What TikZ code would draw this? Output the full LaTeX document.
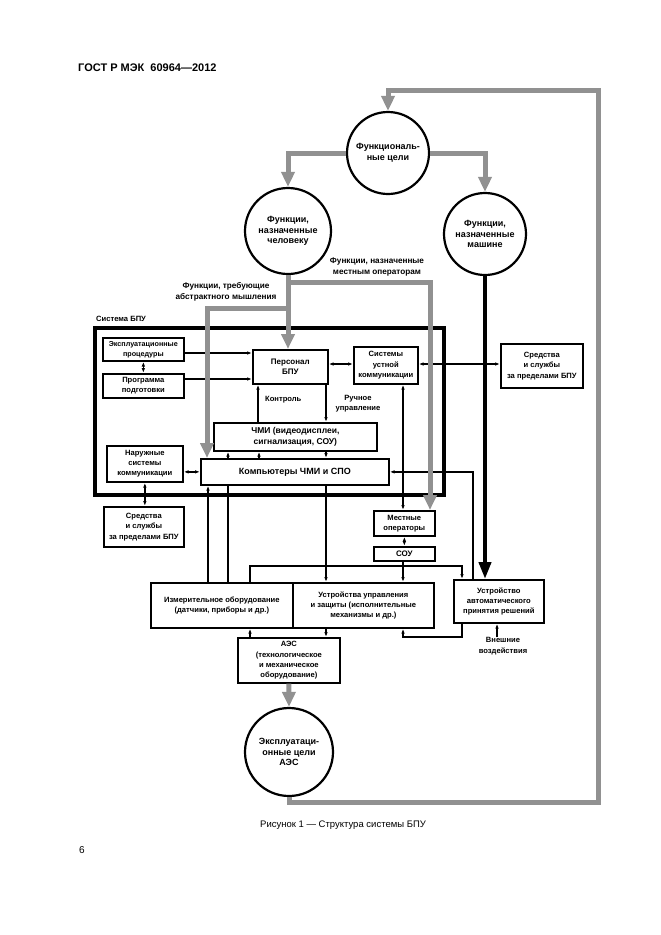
\documentclass[tikz,border=0pt]{standalone}
\usepackage{fontspec}
\setmainfont{Liberation Sans}
\usetikzlibrary{arrows.meta}
\definecolor{gline}{RGB}{145,145,145}
\begin{document}
\begin{tikzpicture}[x=1pt,y=-1pt,
  box/.style={draw,line width=1.7pt,fill=white,anchor=north west,inner sep=0pt,align=center,font=\bfseries\fontsize{7.6}{10.3}\selectfont},
  circ/.style={draw,circle,line width=2.2pt,fill=white,align=center,inner sep=0pt,font=\bfseries\fontsize{9}{10.5}\selectfont},
  lbl/.style={align=center,inner sep=0pt,font=\bfseries\fontsize{7.6}{10.3}\selectfont},
  ln/.style={line width=1.4pt},
  arr/.style={ln,-{Latex[length=5pt,width=3.6pt]}},
  darr/.style={ln,{Latex[length=5pt,width=3.6pt]}-{Latex[length=5pt,width=3.6pt]}},
  garr/.style={line width=5pt,draw=gline,-{Triangle[length=15pt,width=13pt]}},
  barr/.style={line width=4pt,-{Triangle[length=17pt,width=12pt]}},
]
\useasboundingbox (0,0) rectangle (661,935);
\fill[white] (0,0) rectangle (661,935);

% header, caption, page number
\node[anchor=base west,inner sep=0pt,font=\bfseries\fontsize{11}{13}\selectfont] (hdr) at (78,71) {ГОСТ Р МЭК\ \ 60964—2012};
\node[anchor=base west,inner sep=0pt,font=\fontsize{9.5}{11}\selectfont] (cap) at (260,827) {Рисунок 1 — Структура системы БПУ};
\node[anchor=base west,inner sep=0pt,font=\fontsize{10}{12}\selectfont] (pg) at (79,853) {6};

% x / y guide coordinates
\coordinate (xK) at (258,0);
\coordinate (xK2) at (259,0);
\coordinate (xR) at (326,0);
\coordinate (x228) at (228,0);
\coordinate (x208) at (208,0);
\coordinate (xS) at (403,0);
\coordinate (xG) at (430,0);
\coordinate (xGL) at (207,0);
\coordinate (x473) at (473,0);
\coordinate (x462) at (462,0);
\coordinate (x250) at (250,0);
\coordinate (x497) at (497,0);
\coordinate (yA) at (0,353);
\coordinate (yB) at (0,379);
\coordinate (yC) at (0,364);
\coordinate (y566) at (0,566);
\coordinate (y637) at (0,637);

% system box
\node[draw,line width=3.5pt,anchor=north west,minimum width=349pt,minimum height=167pt,inner sep=0pt] (sys) at (93,326) {};
\node[lbl,anchor=base west] (syslbl) at (96,321) {Система БПУ};

% boxes
\node[box,minimum width=81pt,minimum height=23pt,font=\bfseries\fontsize{7.2}{10}\selectfont] (eks) at (102,337) {Эксплуатационные\\процедуры};
\node[box,minimum width=81pt,minimum height=24pt] (prog) at (102,373) {Программа\\подготовки};
\node[box,minimum width=75pt,minimum height=34pt,font=\bfseries\fontsize{8}{10.5}\selectfont] (pers) at (252,349) {Персонал\\БПУ};
\node[box,minimum width=64pt,minimum height=37pt] (ust) at (353,346) {Системы\\устной\\коммуникации};
\node[box,minimum width=82pt,minimum height=44pt] (sredR) at (500,343) {Средства\\и службы\\за пределами БПУ};
\node[box,minimum width=163pt,minimum height=28pt,font=\bfseries\fontsize{8.5}{11}\selectfont] (chmi) at (213,422) {ЧМИ (видеодисплеи,\\сигнализация, СОУ)};
\node[box,minimum width=76pt,minimum height=36pt] (nar) at (106,445) {Наружные\\системы\\коммуникации};
\node[box,minimum width=188pt,minimum height=26pt,font=\bfseries\fontsize{9}{11}\selectfont] (comp) at (200,458) {Компьютеры ЧМИ и СПО};
\node[box,minimum width=80pt,minimum height=40pt] (sredL) at (103,506) {Средства\\и службы\\за пределами БПУ};
\node[box,minimum width=61pt,minimum height=25pt] (mest) at (373,510) {Местные\\операторы};
\node[box,minimum width=61pt,minimum height=14pt,font=\bfseries\fontsize{8}{10}\selectfont] (sou) at (373,546) {СОУ};
\node[box,minimum width=142pt,minimum height=45pt] (izm) at (150,582) {Измерительное оборудование\\(датчики, приборы и др.)};
\node[box,minimum width=141pt,minimum height=45pt] (uu) at (292,582) {Устройства управления\\и защиты (исполнительные\\механизмы и др.)};
\node[box,minimum width=90pt,minimum height=43pt] (auto) at (453,579) {Устройство\\автоматического\\принятия решений};
\node[box,minimum width=102pt,minimum height=45pt,font=\bfseries\fontsize{7.6}{10.2}\selectfont] (aes) at (237,637) {АЭС\\(технологическое\\и механическое\\оборудование)};

% circles
\node[circ,minimum size=82pt] (topc) at (388,153) {Функциональ-\\ные цели};
\node[circ,minimum size=86pt] (leftc) at (288,231) {Функции,\\назначенные\\человеку};
\node[circ,minimum size=82pt] (rightc) at (485,234) {Функции,\\назначенные\\машине};
\node[circ,minimum size=88pt] (botc) at (289,752) {Эксплуатаци-\\онные цели\\АЭС};

% labels
\node[lbl,font=\bfseries\fontsize{8.2}{10.5}\selectfont] (lblAbs) at (226,292) {Функции, требующие\\абстрактного мышления};
\node[lbl,font=\bfseries\fontsize{8.2}{10.5}\selectfont] (lblMest) at (377,267) {Функции, назначенные\\местным операторам};
\node[lbl,anchor=base west] (lblK) at (265,401) {Контроль};
\node[lbl] (lblR) at (358,404) {Ручное\\управление};
\node[lbl] (ext) at (503,646) {Внешние\\воздействия};

% thin connectors
\draw[arr] (eks.east |- yA) -- (pers.west |- yA);
\draw[arr] (prog.east |- yB) -- (pers.west |- yB);
\draw[darr] (eks.south) -- (prog.north);
\draw[darr] (pers.east |- yC) -- (ust.west |- yC);
\draw[darr] (ust.east |- yC) -- (sredR.west |- yC);
\draw[arr] (chmi.north -| xK) -- (pers.south -| xK);
\draw[arr] (pers.south -| xR) -- (chmi.north -| xR);
\draw[arr] (comp.north -| x228) -- (chmi.south -| x228);
\draw[arr] (comp.north -| xK2) -- (chmi.south -| xK2);
\draw[arr] (chmi.south -| xR) -- (comp.north -| xR);
\draw[darr] (nar.east |- comp.west) -- (comp.west);
\draw[darr] (nar.south) -- (nar.south |- sredL.north);
\draw[arr] (izm.north -| x208) -- (comp.south -| x208);
\draw[ln] (izm.north -| x228) -- (comp.south -| x228);
\draw[arr] (comp.south -| xR) -- (uu.north -| xR);
\draw[darr] (ust.south -| xS) -- (mest.north -| xS);
\draw[darr] (mest.south) -- (sou.north);
\draw[arr] (sou.south -| xS) -- (uu.north -| xS);
\draw[arr] (auto.north -| x473) |- (comp.east);
\draw[arr] (izm.north -| x250) -- (x250 |- y566) -| (auto.north -| x462);
\draw[arr] (auto.south -| x462) -- (x462 |- y637) -| (uu.south -| xS);
\draw[arr] (ext.north -| x497) -- (auto.south -| x497);
\draw[arr] (aes.north -| x250) -- (izm.south -| x250);
\draw[arr] (uu.south -| xR) -- (aes.north -| xR);

% thick black arrow
\draw[barr] (rightc.south) -- (rightc.south |- auto.north);

% grey arrows
\coordinate (fbR) at (598,90);
\coordinate (gb1) at (288,282);
\coordinate (gb2) at (288,308);
\draw[garr] (topc.west) -| (leftc.north);
\draw[garr] (topc.east) -| (rightc.north);
\draw[garr] (botc.south) -- ++(0,5) -| (fbR) -| (topc.north);
\draw[garr] (leftc.south) -- (leftc.south |- pers.north);
\draw[garr] (gb1) -| (xG |- mest.north);
\draw[garr] (gb2) -| (xGL |- comp.north);
\draw[garr] (aes.south) -- (botc.north);
\end{tikzpicture}
\end{document}
